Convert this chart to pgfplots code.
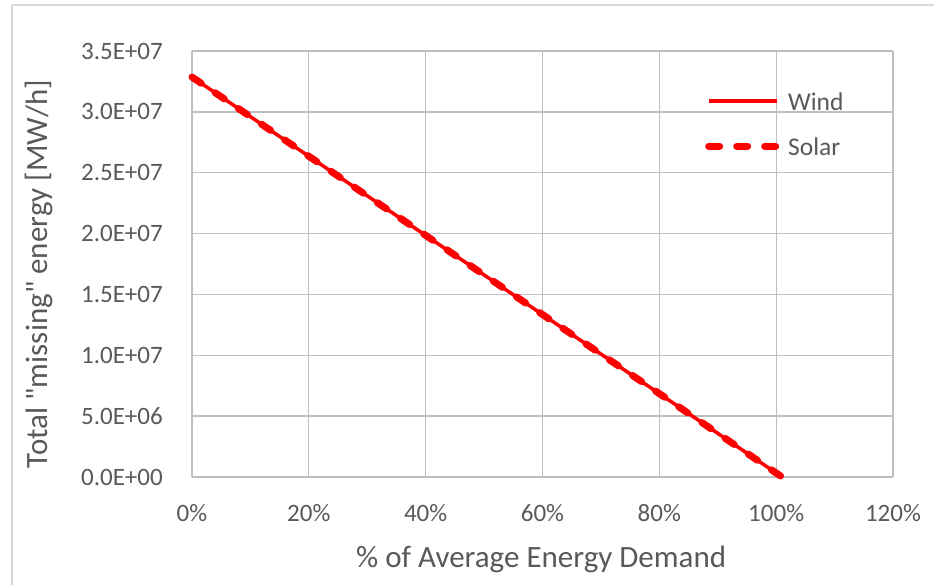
\documentclass[border=0pt]{standalone}
\usepackage{fontspec}
\setmainfont{Carlito}
\usepackage{pgfplots}
\pgfplotsset{compat=1.18}
\definecolor{txt}{HTML}{595959}
\definecolor{grid}{HTML}{D9D9D9}
\definecolor{ax}{HTML}{BFBFBF}
\begin{document}
\begin{tikzpicture}[x=1pt,y=1pt]
\path[use as bounding box] (0,0) rectangle (934,585);
\draw[grid,line width=2pt] (11.5,0) -- (11.5,579.5) -- (934,579.5);
\begin{axis}[
  at={(192pt,108pt)}, anchor=south west,
  scale only axis, width=701pt, height=426pt,
  xmin=0, xmax=1.2, ymin=0, ymax=3.5e7,
  xtick={0,0.2,0.4,0.6,0.8,1.0,1.2},
  xticklabels={0\%,20\%,40\%,60\%,80\%,100\%,120\%},
  ytick={0,5e6,1e7,1.5e7,2e7,2.5e7,3e7,3.5e7},
  yticklabels={0.0E+00,5.0E+06,1.0E+07,1.5E+07,2.0E+07,2.5E+07,3.0E+07,3.5E+07},
  scaled ticks=false,
  /pgf/number format/assume math mode=true,
  major tick length=0pt,
  grid=major, major grid style={grid, line width=1.3pt},
  axis line style={ax, line width=1.6pt},
  axis x line*=bottom, axis y line*=left,
  x axis line style={-}, y axis line style={-},
  tick label style={font=\fontsize{25}{27}\selectfont, text=txt, inner sep=0pt},
  xticklabel style={anchor=base, yshift=-45pt},
  yticklabel style={anchor=east, xshift=-29pt},
  xlabel={\% of Average Energy Demand},
  ylabel={Total \textquotedbl missing\textquotedbl{} energy [MW/h]},
  label style={font=\fontsize{31}{33}\selectfont, text=txt, inner sep=0pt},
  xlabel style={at={(axis description cs:0.498,-0.2136)}, anchor=base},
  ylabel style={at={(axis description cs:-0.2183,0.4765)}, anchor=center},
  clip=false,
  legend style={draw=none, fill=none, at={(0.7318,0.9038)}, anchor=north west,
    font=\fontsize{25.5}{27}\selectfont, text=txt, row sep=27pt, column sep=8pt,
    inner sep=0pt, cells={anchor=west},
    nodes={inner sep=0pt, text height=18pt, text depth=0pt}},
  legend image code/.code={\draw[#1] (0pt,0pt) -- (68pt,0pt);},
]
\addplot[red, line width=3.5pt] coordinates {(0,3.286e7) (0.2,2.635e7) (0.4,1.985e7) (0.6,1.335e7) (0.8,0.685e7) (1.01,0)};
\addlegendentry{Wind}
\addplot[red, line width=7pt, dash pattern=on 11pt off 17pt, line cap=round] coordinates {(0,3.286e7) (0.2,2.635e7) (0.4,1.985e7) (0.6,1.335e7) (0.8,0.685e7) (1.01,0)};
\addlegendentry{Solar}
\end{axis}
\end{tikzpicture}
\end{document}
